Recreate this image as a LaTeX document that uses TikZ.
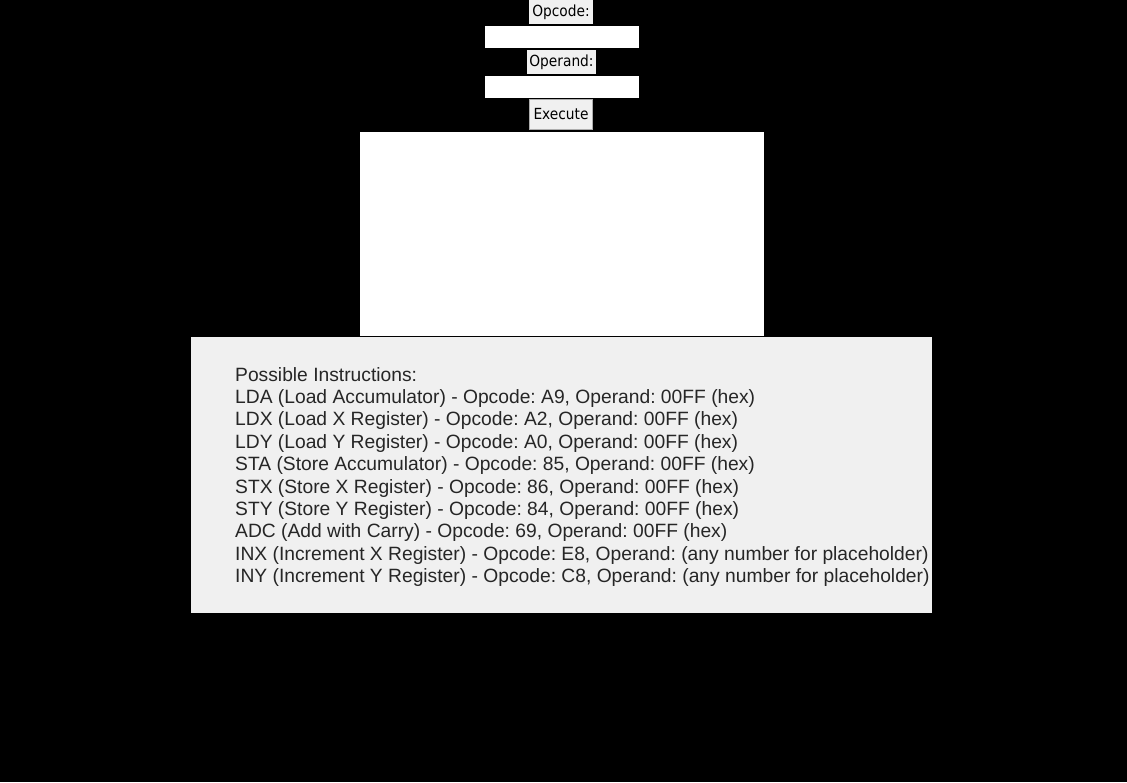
\documentclass[tikz,border=0pt]{standalone}
\usepackage{fontspec}
\setmainfont{Liberation Sans}
\newfontfamily\uifont{DejaVu Sans Condensed}
\frenchspacing
\definecolor{facegray}{HTML}{F0F0F0}
\definecolor{edgegray}{HTML}{ADADAD}
\tikzset{
  lbl/.style={fill=facegray, inner sep=0pt, outer sep=0pt, anchor=north west,
    font=\uifont\fontsize{15.3}{17}\selectfont},
  entry/.style={fill=white, inner sep=0pt, outer sep=0pt, anchor=north west},
  instr/.style={inner sep=0pt, anchor=base west, text=black!85,
    font=\fontsize{19.25}{22.4}\selectfont}
}
\begin{document}
\begin{tikzpicture}[x=1pt,y=-1pt]
                \fill[black] (0,0) rectangle (1127,782);
                \useasboundingbox (0,0) rectangle (1127,782);

                \node[lbl, minimum width=64pt, minimum height=24pt] 
                    (opcode) at (529,0) {Opcode:};
                \node[entry, minimum width=154pt, minimum height=22pt] 
                    (opcodein) at (485,26) {};
                \node[lbl, minimum width=69pt, minimum height=24pt] 
                    (operand) at (527,50) {Operand:};
                \node[entry, minimum width=154pt, minimum height=22pt] 
                    (operandin) at (485,76) {};
                \node[lbl, draw=edgegray, minimum width=63pt, minimum height=30pt] 
                    (execute) at (529.5,99.5) {Execute};

                \node[entry, minimum width=404pt, minimum height=204pt] 
                    (canvas) at (360,132) {};
                \node[entry, fill=facegray, minimum width=741pt, minimum height=276pt] 
                    (panel) at (191,337) {};

                \node[instr] (l0) at (235,381.0) {Possible Instructions:};
                \node[instr] (l1) at (235,403.4) {LDA (Load Accumulator) - Opcode: A9, Operand: 00FF (hex)};
                \node[instr] (l2) at (235,425.8) {LDX (Load X Register) - Opcode: A2, Operand: 00FF (hex)};
                \node[instr] (l3) at (235,448.2) {LDY (Load Y Register) - Opcode: A0, Operand: 00FF (hex)};
                \node[instr] (l4) at (235,470.6) {STA (Store Accumulator) - Opcode: 85, Operand: 00FF (hex)};
                \node[instr] (l5) at (235,493.0) {STX (Store X Register) - Opcode: 86, Operand: 00FF (hex)};
                \node[instr] (l6) at (235,515.4) {STY (Store Y Register) - Opcode: 84, Operand: 00FF (hex)};
                \node[instr] (l7) at (235,537.8) {ADC (Add with Carry) - Opcode: 69, Operand: 00FF (hex)};
                \node[instr] (l8) at (235,560.2) {INX (Increment X Register) - Opcode: E8, Operand: (any number for placeholder)};
                \node[instr] (l9) at (235,582.6) {INY (Increment Y Register) - Opcode: C8, Operand: (any number for placeholder)};
            \end{tikzpicture}
\end{document}
